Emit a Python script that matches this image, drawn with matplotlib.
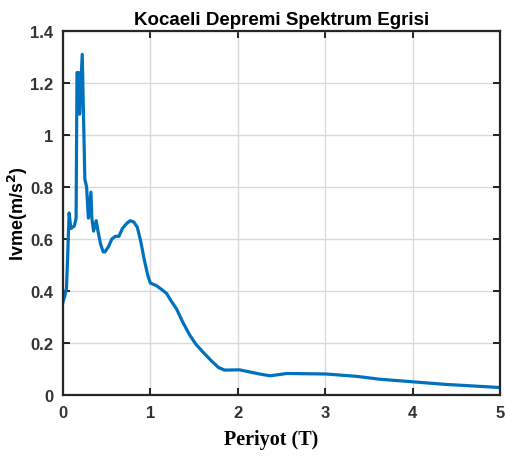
import matplotlib
matplotlib.use("Agg")
import matplotlib.pyplot as plt

# Kocaeli spektrum egrisi
periyot = [0.0, 0.02, 0.04, 0.055, 0.07, 0.09, 0.13, 0.15, 0.16, 0.18, 0.19, 0.22,
           0.25, 0.27, 0.29, 0.32, 0.33, 0.35, 0.38, 0.40, 0.43, 0.46, 0.48,
           0.52, 0.56, 0.60, 0.64, 0.68, 0.73, 0.77, 0.81, 0.85, 0.89, 0.93,
           0.97, 1.0, 1.07, 1.13, 1.185, 1.24, 1.30, 1.37, 1.45, 1.52, 1.60,
           1.70, 1.78, 1.85, 2.02, 2.25, 2.37, 2.56, 3.01, 3.36, 3.62, 4.0,
           4.38, 5.0]
ivme = [0.357, 0.38, 0.41, 0.55, 0.70, 0.64, 0.65, 0.68, 1.24, 1.24, 1.08, 1.31,
        0.83, 0.80, 0.68, 0.78, 0.68, 0.63, 0.67, 0.63, 0.58, 0.55, 0.55,
        0.57, 0.60, 0.61, 0.61, 0.64, 0.66, 0.67, 0.665, 0.645, 0.59, 0.52,
        0.46, 0.43, 0.42, 0.405, 0.39, 0.36, 0.33, 0.28, 0.23, 0.195, 0.165,
        0.13, 0.105, 0.095, 0.096, 0.08, 0.073, 0.082, 0.08, 0.071, 0.06, 0.05,
        0.04, 0.028]

xticks = [0, 1, 2, 3, 4, 5]
yticks = [0, 0.2, 0.4, 0.6, 0.8, 1, 1.2, 1.4]
ytick_labels = ["0", "0.2", "0.4", "0.6", "0.8", "1", "1.2", "1.4"]

fig = plt.figure(figsize=(5.06, 4.64), dpi=100)
ax = fig.add_axes([0.1245, 0.147, 0.8635, 0.784])

ax.plot(periyot, ivme, color="#0072BD", linewidth=2.3)

ax.set_xlim(0, 5)
ax.set_ylim(0, 1.4)
ax.set_xticks(xticks)
ax.set_yticks(yticks)
ax.set_yticklabels(ytick_labels)
ax.grid(True, color="#d9d9d9", linewidth=1)
ax.tick_params(direction="in", top=True, right=True, length=5, width=1.2,
               pad=7)
for lbl in ax.get_xticklabels() + ax.get_yticklabels():
    lbl.set_fontweight("bold")
    lbl.set_fontfamily(["Liberation Sans Narrow", "Liberation Sans"])
    lbl.set_fontsize(12)
    lbl.set_color("#333333")
for s in ax.spines.values():
    s.set_linewidth(1.6)
    s.set_color("#262626")

ax.set_title("Kocaeli Depremi Spektrum Egrisi", fontsize=13.5, fontweight="bold",
             family="Liberation Sans", pad=5)
ax.set_xlabel("Periyot (T)", fontsize=14.5, fontweight="bold",
              family="Liberation Serif", labelpad=7, x=0.477)
ax.set_ylabel(r"Ivme(m/s$^\mathbf{2}$)", fontsize=13, fontweight="bold",
              family="Liberation Sans", labelpad=0)

fig.savefig("out.png", dpi=100)
